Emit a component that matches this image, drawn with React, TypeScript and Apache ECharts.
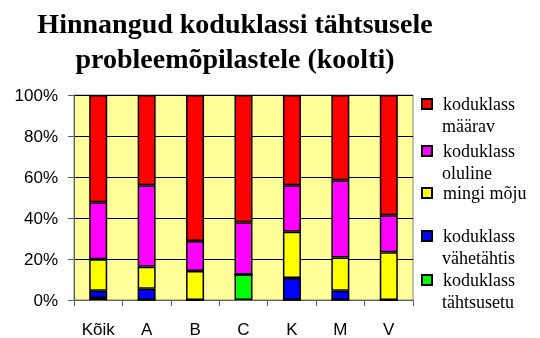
import React, { useEffect, useRef } from "react";
import * as echarts from "echarts";

const categories = ["Kõik", "A", "B", "C", "K", "M", "V"];
const seriesNames = [
  "koduklass tähtsusetu",
  "koduklass vähetähtis",
  "mingi mõju",
  "koduklass oluline",
  "koduklass määrav",
];
const tahtsusetu = [1, 0, 0, 12.5, 0, 0, 0];
const vahetahtis = [3.5, 5.5, 0, 0, 10.7, 4.5, 0];
const mingiMoju = [15.4, 10.7, 14.2, 0, 22.6, 16.2, 23.3];
const oluline = [27.8, 39.8, 14.6, 25.4, 22.7, 37.7, 18.1];
const maarav = [52.3, 44, 71.2, 62.1, 44, 41.6, 58.6];
const colors = ["#00FF00", "#0000FF", "#FFFF00", "#FF00FF", "#FF0000"];
const yTicks = [0, 20, 40, 60, 80, 100];

export default function App() {
  const ref = useRef<HTMLDivElement>(null);
  useEffect(() => {
    if (!ref.current) return;
    const chart = echarts.init(ref.current, null, { renderer: "svg" });
    const values = [tahtsusetu, vahetahtis, mingiMoju, oluline, maarav];
    const legendOrder = [4, 3, 2, 1, 0];
    const legendCenters = [104, 151, 193, 236, 280];
    const legendFont = {
      fontFamily: "Liberation Serif",
      fontSize: 18,
      color: "#000",
      lineHeight: 21,
    };
    const splitName = (n: string) =>
      n.startsWith("koduklass ") ? ["koduklass", n.slice(10)] : [n];
    const legends = legendOrder.map((si, i) => ({
      data: [seriesNames[si]],
      left: 421,
      top: legendCenters[i] - 10.5,
      padding: 0,
      itemWidth: 10,
      itemHeight: 10,
      icon: "rect",
      selectedMode: false,
      formatter: (n: string) => splitName(n)[0],
      textStyle: { ...legendFont, padding: [0, 0, 0, 6] },
    }));
    const secondLines = legendOrder
      .map((si, i) => ({ parts: splitName(seriesNames[si]), y: legendCenters[i] + 22 }))
      .filter((d) => d.parts.length > 1)
      .map((d) => ({
        type: "text",
        x: 442,
        y: d.y,
        style: {
          text: d.parts[1],
          font: "18px 'Liberation Serif'",
          fill: "#000",
          verticalAlign: "middle",
          align: "left",
        },
      }));
    chart.setOption({
      animation: false,
      title: {
        text: "Hinnangud koduklassi tähtsusele\nprobleemõpilastele (koolti)",
        left: 235,
        top: 6,
        padding: 0,
        textAlign: "center",
        textStyle: {
          fontFamily: "Liberation Serif",
          fontWeight: "bold",
          fontSize: 28,
          lineHeight: 35,
          color: "#000",
        },
      },
      legend: legends,
      graphic: secondLines,
      grid: {
        left: 74,
        top: 95,
        width: 339,
        height: 206,
        show: true,
        backgroundColor: "#FFFF99",
        borderColor: "#808080",
        borderWidth: 1,
      },
      xAxis: {
        type: "category",
        data: categories,
        axisLine: { lineStyle: { color: "#606060", width: 1 } },
        axisTick: { show: true, length: 6, lineStyle: { color: "#606060" } },
        axisLabel: {
          fontFamily: "Liberation Sans",
          fontSize: 17,
          color: "#000",
          margin: 21,
        },
      },
      yAxis: {
        type: "value",
        min: yTicks[0],
        max: yTicks[yTicks.length - 1],
        interval: 20,
        axisLine: { show: true, lineStyle: { color: "#606060", width: 1 } },
        axisTick: { show: true, length: 6, lineStyle: { color: "#606060" } },
        splitLine: { show: true, lineStyle: { color: "#000", width: 1 } },
        axisLabel: {
          formatter: "{value}%",
          fontFamily: "Liberation Sans",
          fontSize: 17,
          color: "#000",
          margin: 16,
        },
      },
      series: seriesNames.map((name, i) => ({
        name,
        type: "bar",
        stack: "total",
        barWidth: 18,
        data: values[i],
        itemStyle: { color: colors[i], borderColor: "#000", borderWidth: 1.5 },
      })),
    });
    return () => chart.dispose();
  }, []);
  return (
    <div
      ref={ref}
      style={{ position: "fixed", left: 0, top: 0, width: 540, height: 338 }}
    />
  );
}
